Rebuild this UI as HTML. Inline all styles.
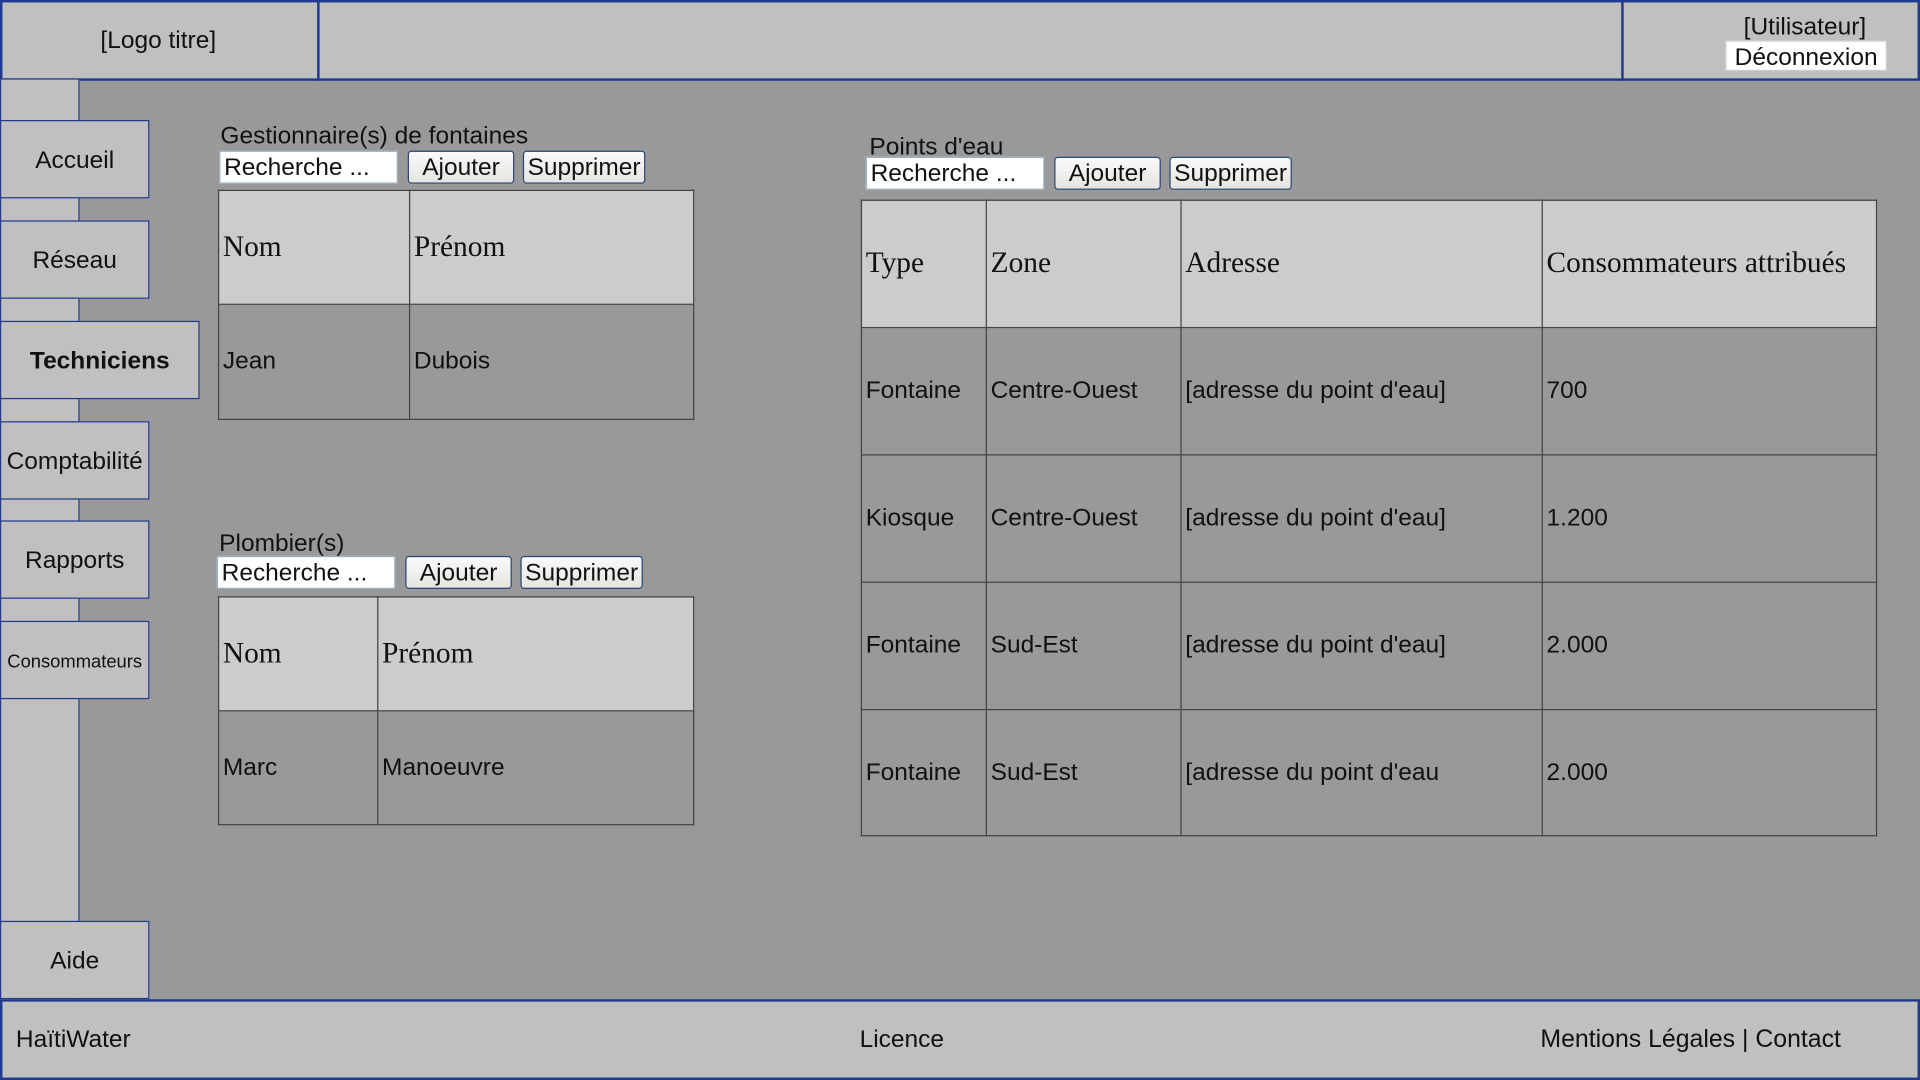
<!DOCTYPE html>
<html><head><meta charset="utf-8"><style>
html,body{margin:0;padding:0;width:1920px;height:1080px;overflow:hidden;background:#999;}
#c{position:absolute;left:0;top:0;width:1568px;height:882px;transform:scale(1.22449);transform-origin:0 0;background:#999;font-family:"Liberation Sans",sans-serif;color:#111;}
.a{position:absolute;box-sizing:border-box;}
.bx{position:absolute;box-sizing:border-box;background:#c0c0c0;border:2px solid #1f3a8a;}
.nav{position:absolute;box-sizing:border-box;background:#c0c0c0;border:1.5px solid #1f3a8a;display:flex;align-items:center;justify-content:center;font-size:20px;padding-top:2px;}
.t{position:absolute;white-space:nowrap;font-size:20px;}
.in{position:absolute;box-sizing:border-box;background:#fff;border:1px solid #9ab;font-size:20px;padding-left:3px;line-height:26px;}
.btn{position:absolute;box-sizing:border-box;background:linear-gradient(#fafafa,#e6e4e0);border:1px solid #2a4a7a;border-radius:3px;font-size:20px;text-align:center;line-height:26px;}
table{position:absolute;border-collapse:collapse;}
td{border:1px solid #444;padding:0 0 0 3px;font-size:20px;vertical-align:middle;}
tr.h td{background:#ccc;font-family:"Liberation Serif",serif;font-size:24px;}
</style></head><body><div id="c">
<div class="bx" style="left:0;top:0;width:1568px;height:66px;"></div>
<div class="a" style="left:259px;top:0;width:2px;height:66px;background:#1f3a8a"></div>
<div class="a" style="left:1324px;top:0;width:2px;height:66px;background:#1f3a8a"></div>
<div class="t" style="left:82px;top:22px;">[Logo titre]</div>
<div class="t" style="left:1424px;top:11px;">[Utilisateur]</div>
<div class="a" style="left:1409px;top:33px;width:132px;height:25px;background:#fff;border:1px solid #ccc;font-size:20px;text-align:center;line-height:26px;">Déconnexion</div>

<div class="bx" style="left:0;top:64px;width:65px;height:754px;border-width:1.5px;"></div>
<div class="nav" style="left:0;top:98px;width:122px;height:64px;">Accueil</div>
<div class="nav" style="left:0;top:180px;width:122px;height:64px;">Réseau</div>
<div class="nav" style="left:0;top:262px;width:163px;height:64px;font-weight:bold;">Techniciens</div>
<div class="nav" style="left:0;top:344px;width:122px;height:64px;">Comptabilité</div>
<div class="nav" style="left:0;top:425px;width:122px;height:64px;">Rapports</div>
<div class="nav" style="left:0;top:507px;width:122px;height:64px;font-size:15px;">Consommateurs</div>
<div class="nav" style="left:0;top:752px;width:122px;height:64px;">Aide</div>

<div class="bx" style="left:0;top:816px;width:1568px;height:66px;"></div>
<div class="t" style="left:13px;top:838px;">HaïtiWater</div>
<div class="t" style="left:702px;top:838px;">Licence</div>
<div class="t" style="left:1258px;top:838px;font-size:20.3px;">Mentions Légales | Contact</div>

<div class="t" style="left:180px;top:100px;">Gestionnaire(s) de fontaines</div>
<div class="in" style="left:179px;top:123px;width:146px;height:27px;">Recherche ...</div>
<div class="btn" style="left:333px;top:123px;width:87px;height:27px;">Ajouter</div>
<div class="btn" style="left:427px;top:123px;width:100px;height:27px;">Supprimer</div>
<table style="left:178px;top:155px;width:389px;">
<tr class="h" style="height:93px"><td style="width:152px">Nom</td><td>Prénom</td></tr>
<tr style="height:94px"><td>Jean</td><td>Dubois</td></tr></table>

<div class="t" style="left:179px;top:433px;">Plombier(s)</div>
<div class="in" style="left:177px;top:454px;width:146px;height:27px;">Recherche ...</div>
<div class="btn" style="left:331px;top:454px;width:87px;height:27px;">Ajouter</div>
<div class="btn" style="left:425px;top:454px;width:100px;height:27px;">Supprimer</div>
<table style="left:178px;top:487px;width:389px;">
<tr class="h" style="height:93px"><td style="width:126px">Nom</td><td>Prénom</td></tr>
<tr style="height:93px"><td>Marc</td><td>Manoeuvre</td></tr></table>

<div class="t" style="left:710px;top:109px;">Points d'eau</div>
<div class="in" style="left:707px;top:128px;width:146px;height:27px;">Recherche ...</div>
<div class="btn" style="left:861px;top:128px;width:87px;height:27px;">Ajouter</div>
<div class="btn" style="left:955px;top:128px;width:100px;height:27px;">Supprimer</div>
<table style="left:703px;top:163px;width:830px;">
<tr class="h" style="height:104px"><td style="width:98px">Type</td><td style="width:155px">Zone</td><td style="width:291px">Adresse</td><td>Consommateurs attribués</td></tr>
<tr style="height:104px"><td>Fontaine</td><td>Centre-Ouest</td><td>[adresse du point d'eau]</td><td>700</td></tr>
<tr style="height:104px"><td>Kiosque</td><td>Centre-Ouest</td><td>[adresse du point d'eau]</td><td>1.200</td></tr>
<tr style="height:104px"><td>Fontaine</td><td>Sud-Est</td><td>[adresse du point d'eau]</td><td>2.000</td></tr>
<tr style="height:103px"><td>Fontaine</td><td>Sud-Est</td><td>[adresse du point d'eau</td><td>2.000</td></tr>
</table>
</div></body></html>
